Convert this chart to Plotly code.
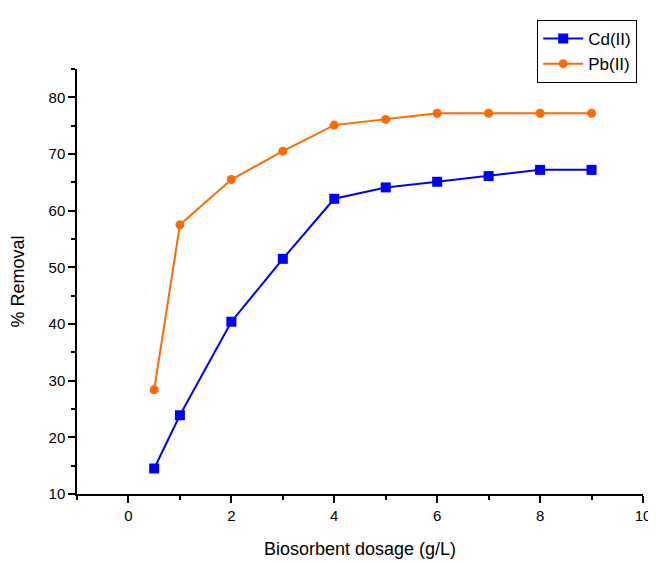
import plotly.graph_objects as go

dosage = [0.5, 1, 2, 3, 4, 5, 6, 7, 8, 9]
cd_removal = [14.5, 23.9, 40.4, 51.5, 62.1, 64.1, 65.1, 66.1, 67.2, 67.2]
pb_removal = [28.4, 57.5, 65.5, 70.5, 75.1, 76.1, 77.2, 77.2, 77.2, 77.2]

fig = go.Figure()
fig.add_trace(go.Scatter(x=dosage, y=cd_removal, name="Cd(II)", mode="lines+markers",
                         line=dict(color="#0000FF", width=2),
                         marker=dict(symbol="square", size=10, color="#0000FF")))
fig.add_trace(go.Scatter(x=dosage, y=pb_removal, name="Pb(II)", mode="lines+markers",
                         line=dict(color="#FF6A00", width=2),
                         marker=dict(symbol="circle", size=9, color="#FF6A00")))

font_family = "Liberation Sans, Arial"
axis_common = dict(showline=True, linecolor="black", linewidth=1.5, ticks="outside",
                   ticklen=7, tickwidth=1.5, tickcolor="black", showgrid=False, zeroline=False,
                   automargin=False,
                   tickfont=dict(family=font_family, size=15, color="black"))

fig.update_xaxes(range=[-1, 10], tick0=0, dtick=2,
                 minor=dict(ticks="outside", ticklen=4, tickwidth=1.5, tickcolor="black", tick0=0, dtick=1),
                 title=dict(text="Biosorbent dosage (g/L)", font=dict(family=font_family, size=18, color="black"), standoff=20),
                 **axis_common)
fig.update_yaxes(range=[10, 85], tick0=10, dtick=10,
                 minor=dict(ticks="outside", ticklen=4, tickwidth=1.5, tickcolor="black", tick0=10, dtick=5),
                 title=dict(text="% Removal", font=dict(family=font_family, size=18, color="black"), standoff=22),
                 **axis_common)

fig.update_layout(
    width=648, height=555,
    margin=dict(l=69, r=13, t=54, b=69),
    plot_bgcolor="white", paper_bgcolor="white",
    legend=dict(x=0.8127, y=1.1157, xanchor="left", yanchor="top",
                bordercolor="black", borderwidth=1.2, bgcolor="white",
                font=dict(family=font_family, size=17, color="black"),
                itemwidth=40, tracegroupgap=0),
)

fig.write_html("out.html")
